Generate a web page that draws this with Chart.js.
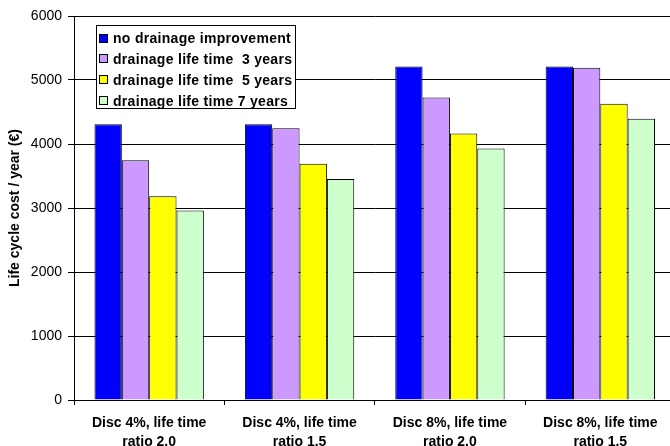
<!DOCTYPE html>
<html>
<head>
<meta charset="utf-8">
<script src="https://cdn.jsdelivr.net/npm/chart.js@4/dist/chart.umd.min.js"></script>
<style>
  html, body { margin: 0; padding: 0; background: #fff; overflow: hidden; }
  #wrap { width: 670px; height: 446px; overflow: hidden; position: relative; }
  canvas { display: block; }
</style>
</head>
<body>
<div id="wrap"><canvas id="c" width="680" height="446"></canvas></div>
<script>
const categories = [
  ["Disc 4%, life time", "ratio 2.0"],
  ["Disc 4%, life time", "ratio 1.5"],
  ["Disc 8%, life time", "ratio 2.0"],
  ["Disc 8%, life time", "ratio 1.5"]
];
const seriesNames = [
  "no drainage improvement",
  "drainage life time  3 years",
  "drainage life time  5 years",
  "drainage life time 7 years"
];
const noImprovement = [4310, 4310, 5210, 5210];
const lifeTime3 = [3745, 4245, 4725, 5190];
const lifeTime5 = [3185, 3690, 4165, 4630];
const lifeTime7 = [2960, 3455, 3930, 4395];
const yTicks = [0, 1000, 2000, 3000, 4000, 5000, 6000];
const yTitle = "Life cycle cost / year (€)";

const colors = ["#0000FF", "#CC99FF", "#FFFF00", "#CCFFCC"];
const seriesValues = [noImprovement, lifeTime3, lifeTime5, lifeTime7];

const FONT = "Arial, 'Liberation Sans', sans-serif";

const boxLegend = {
  id: 'boxLegend',
  afterDraw(chart) {
    const ctx = chart.ctx;
    const x0 = 96.5, y0 = 25.5, w = 199, h = 83;
    ctx.save();
    ctx.fillStyle = '#fff';
    ctx.fillRect(x0, y0, w, h);
    ctx.strokeStyle = '#000';
    ctx.lineWidth = 1;
    ctx.strokeRect(x0, y0, w, h);
    ctx.font = "bold 14px " + FONT;
    ctx.textBaseline = 'middle';
    try { ctx.letterSpacing = '0.3px'; } catch (e) {}
    chart.data.datasets.forEach((ds, i) => {
      const cy = 38.5 + i * 20.9;
      ctx.fillStyle = ds.backgroundColor;
      ctx.fillRect(99.5, Math.round(cy) - 4.5, 8, 8);
      ctx.strokeStyle = '#000';
      ctx.strokeRect(99.5, Math.round(cy) - 4.5, 8, 8);
      ctx.fillStyle = '#000';
      ctx.fillText(ds.label, 113, cy + 0.5);
    });
    ctx.restore();
  }
};

new Chart(document.getElementById('c'), {
  type: 'bar',
  data: {
    labels: categories,
    datasets: seriesNames.map((name, i) => ({
      label: name,
      data: seriesValues[i],
      backgroundColor: colors[i],
      borderColor: '#000',
      borderWidth: 1,
      categoryPercentage: 4 / 5.5,
      barPercentage: 1.0
    }))
  },
  options: {
    responsive: false,
    animation: false,
    layout: { padding: { left: 0, right: 4.5, top: 16, bottom: 0 } },
    plugins: {
      legend: { display: false },
      tooltip: { enabled: false }
    },
    scales: {
      x: {
        offset: true,
        grid: {
          offset: true,
          drawOnChartArea: false,
          drawTicks: true,
          tickLength: 5,
          color: '#000'
        },
        border: { display: true, color: '#000', width: 1 },
        ticks: {
          color: '#000',
          font: { family: FONT, size: 14, weight: 'bold', lineHeight: 1.35 },
          padding: 9,
          maxRotation: 0,
          autoSkip: false
        },
        afterFit(scale) { scale.height = 46; }
      },
      y: {
        min: 0,
        max: 6000,
        afterBuildTicks(scale) { scale.ticks = yTicks.map(v => ({ value: v })); },
        grid: {
          color: '#000',
          lineWidth: 1,
          drawTicks: true,
          tickLength: 6
        },
        border: { display: true, color: '#000', width: 1 },
        ticks: {
          color: '#000',
          font: { family: FONT, size: 14 },
          padding: 6,
          callback: (v) => String(v)
        },
        title: {
          display: true,
          text: yTitle,
          color: '#000',
          font: { family: FONT, size: 14, weight: 'bold' },
          padding: { top: 7, bottom: 0 }
        },
        afterFit(scale) { scale.width = 74; }
      }
    }
  },
  plugins: [boxLegend]
});
</script>
</body>
</html>
